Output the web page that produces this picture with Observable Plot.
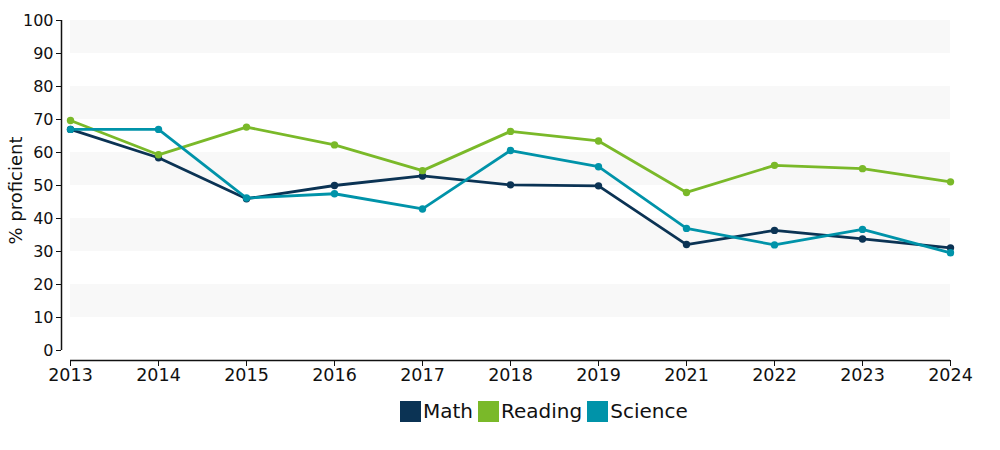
<!DOCTYPE html>
<html><head><meta charset="utf-8">
<script src="https://cdn.jsdelivr.net/npm/d3@7"></script>
<script src="https://cdn.jsdelivr.net/npm/@observablehq/plot@0.6"></script>
<style>
body{margin:0;background:#fff;font-family:"DejaVu Sans",Verdana,sans-serif;}
#wrap{position:relative;width:1000px;height:450px;}
#legend{position:absolute;left:400px;top:399px;display:flex;align-items:center;font-size:20px;color:#111;}
.item{display:flex;align-items:center;margin-right:5px;}
.sw{width:21px;height:21px;margin-right:2px;}
</style></head>
<body><div id="wrap"><div id="chart"></div><div id="legend"></div></div>
<script>
const years = ["2013","2014","2015","2016","2017","2018","2019","2021","2022","2023","2024"];
const subjects = ["Math","Reading","Science"];
const colors = ["#0b3354","#7ab929","#0093a9"];
const math =    [67.0, 58.4, 46.0, 50.0, 52.9, 50.2, 49.9, 32.1, 36.4, 33.8, 31.1];
const reading = [69.7, 59.3, 67.7, 62.3, 54.5, 66.4, 63.5, 47.9, 56.1, 55.1, 51.1];
const science = [67.0, 67.0, 46.2, 47.5, 42.9, 60.6, 55.7, 37.0, 32.0, 36.7, 29.6];
const yTicks = [0,10,20,30,40,50,60,70,80,90,100];
const bandStarts = [10,30,50,70,90];

const series = [math, reading, science];
const data = [];
subjects.forEach((s,i)=>years.forEach((y,j)=>data.push({subject:s, year:y, value:series[i][j]})));
const bands = bandStarts.map(b=>({y1:b, y2:b+10}));

const plot = Plot.plot({
  width:1000, height:385,
  marginLeft:61, marginRight:50, marginTop:20, marginBottom:25,
  insetLeft:9, insetBottom:10,
  style:{fontFamily:"'DejaVu Sans', Verdana, sans-serif", fontSize:"16px", color:"#111"},
  x:{type:"point", domain:years, padding:0},
  y:{domain:[0,100]},
  color:{domain:subjects, range:colors},
  marks:[
    Plot.rect(bands,{x1:()=>years[0], x2:()=>years[years.length-1], y1:"y1", y2:"y2", fill:"#f8f8f8"}),
    Plot.ruleY([0],{x1:()=>years[0], x2:()=>years[years.length-1], dy:10, stroke:"#111", strokeWidth:1.5}),
    Plot.ruleX([years[0]],{y1:0, y2:100, dx:-9, stroke:"#111", strokeWidth:1.5}),
    Plot.axisY({ticks:yTicks, tickSize:5, tickPadding:3, label:null, fontSize:"16px"}),
    Plot.axisX({tickSize:6, tickPadding:2, label:null, fontSize:"17.5px"}),
    Plot.text(["% proficient"],{frameAnchor:"left", dx:-45, rotate:-90, fontSize:"18px", fill:"#111", textAnchor:"middle"}),
    Plot.line(data,{x:"year", y:"value", z:"subject", stroke:"subject", strokeWidth:2.8}),
    Plot.dot(data,{x:"year", y:"value", fill:"subject", r:3.7})
  ]
});
document.getElementById("chart").appendChild(plot);

const lg = document.getElementById("legend");
subjects.forEach((s,i)=>{
  const it = document.createElement("div"); it.className="item";
  const sw = document.createElement("div"); sw.className="sw"; sw.style.background=colors[i];
  const t = document.createElement("span"); t.textContent=s;
  it.appendChild(sw); it.appendChild(t); lg.appendChild(it);
});
</script></body></html>
